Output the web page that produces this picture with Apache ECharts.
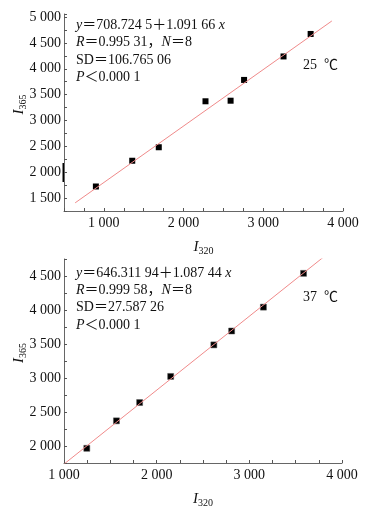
<!DOCTYPE html>
<html>
<head>
<meta charset="utf-8">
<script src="https://cdn.jsdelivr.net/npm/echarts@6/dist/echarts.min.js"></script>
<style>
html,body{margin:0;padding:0;background:#fff;}
#c{width:372px;height:507px;}
</style>
</head>
<body>
<div id="c"></div>
<script>
// ---- data ----
const x25 = [900, 1356, 1689, 2275, 2590, 2759, 3254, 3594];
const y25 = [1724, 2222, 2483, 3372, 3383, 3785, 4239, 4674];
const fit25X = [640, 3860];
const fit25Y = [1408, 4925];

const x37 = [1246, 1566, 1816, 2151, 2617, 2809, 3152, 3585];
const y37 = [1966, 2370, 2639, 3023, 3487, 3691, 4042, 4539];
const fit37X = [1000, 3800];
const fit37Y = [1734, 4778];

const text25 = ['{i|y}＝708.724 5＋1.091 66 {i|x}', '{i|R}＝0.995 31，{i|N}＝8', 'SD＝106.765 06', '{i|P}＜0.000 1'];
const text37 = ['{i|y}＝646.311 94＋1.087 44 {i|x}', '{i|R}＝0.999 58，{i|N}＝8', 'SD＝27.587 26', '{i|P}＜0.000 1'];
const temp25 = '25  ℃';
const temp37 = '37  ℃';

const FONT = "'Liberation Serif', 'Noto Sans CJK SC', serif";
const pairs = (xs, ys) => xs.map((v, i) => [v, ys[i]]);
const fmt = v => {
  const th = Math.floor(v / 1000), r = v % 1000;
  return th + ' ' + String(r).padStart(3, '0');
};

function xAxis(gi, min, max) {
  return {
    type: 'value', gridIndex: gi, min: min, max: max, interval: 250,
    name: '{i|I}{s|320}', nameLocation: 'middle', nameGap: 27, nameMoveOverlap: false,
    nameTextStyle: { rich: {
      i: { fontFamily: FONT, fontStyle: 'italic', fontSize: 15, color: '#111' },
      s: { fontFamily: FONT, fontSize: 10, color: '#111', padding: [8, 0, 0, 0] } } },
    axisLine: { show: true, onZero: false, lineStyle: { color: '#666', width: 1 } },
    axisTick: { show: true, inside: true, length: 3, lineStyle: { color: '#555' } },
    axisLabel: { fontFamily: FONT, fontSize: 14, color: '#111', margin: 5,
      formatter: v => (v % 1000 === 0 ? fmt(v) : '') },
    splitLine: { show: false }
  };
}
function yAxis(gi, min, max) {
  return {
    type: 'value', gridIndex: gi, min: min, max: max, interval: 250,
    name: '{i|I}{s|365}', nameLocation: 'middle', nameGap: 36, nameRotate: 90, nameMoveOverlap: false,
    nameTextStyle: { padding: [0, 0, 0, 16], rich: {
      i: { fontFamily: FONT, fontStyle: 'italic', fontSize: 15, color: '#111' },
      s: { fontFamily: FONT, fontSize: 10, color: '#111', padding: [8, 0, 0, 0] } } },
    axisLine: { show: true, onZero: false, lineStyle: { color: '#666', width: 1 } },
    axisTick: { show: true, inside: true, length: 3, lineStyle: { color: '#555' } },
    axisLabel: { fontFamily: FONT, fontSize: 14, color: '#111', margin: 3,
      formatter: v => (v % 500 === 0 ? fmt(v) : '') },
    splitLine: { show: false }
  };
}
function annot(lines, x0, y0, dy) {
  return lines.map((t, i) => ({
    type: 'text', x: x0, y: y0 + i * dy,
    style: { text: t, fill: '#111', font: '14px ' + FONT, verticalAlign: 'middle', align: 'left',
      rich: { i: { fontStyle: 'italic', fontFamily: FONT, fontSize: 14, fill: '#111' } } }
  }));
}

const chart = echarts.init(document.getElementById('c'), null, { renderer: 'canvas' });
chart.setOption({
  animation: false,
  backgroundColor: '#fff',
  grid: [
    { left: 64, right: 29, top: 14, bottom: 296, containLabel: false, outerBoundsMode: 'none' },
    { left: 64, right: 30, top: 259, bottom: 44, containLabel: false, outerBoundsMode: 'none' }
  ],
  xAxis: [xAxis(0, 500, 4000), xAxis(1, 1000, 4000)],
  yAxis: [yAxis(0, 1250, 5060), yAxis(1, 1750, 4750)],
  series: [
    { type: 'line', xAxisIndex: 0, yAxisIndex: 0, data: pairs(fit25X, fit25Y), symbol: 'none',
      lineStyle: { color: '#f08a8a', width: 1 }, clip: true, silent: true },
    { type: 'scatter', xAxisIndex: 0, yAxisIndex: 0, data: pairs(x25, y25), symbol: 'rect', symbolSize: 6,
      itemStyle: { color: '#000', opacity: 1 } },
    { type: 'line', xAxisIndex: 1, yAxisIndex: 1, data: pairs(fit37X, fit37Y), symbol: 'none',
      lineStyle: { color: '#f08a8a', width: 1 }, clip: true, silent: true },
    { type: 'scatter', xAxisIndex: 1, yAxisIndex: 1, data: pairs(x37, y37), symbol: 'rect', symbolSize: 6,
      itemStyle: { color: '#000', opacity: 1, borderColor: '#555', borderWidth: 0.5 } }
  ],
  graphic: [].concat(
    annot(text25, 76, 25, 17.5),
    annot(text37, 76, 273, 17.3),
    [
      { type: 'text', x: 303, y: 65, style: { text: temp25, fill: '#111', font: '14px ' + FONT, verticalAlign: 'middle' } },
      { type: 'text', x: 303, y: 297, style: { text: temp37, fill: '#111', font: '14px ' + FONT, verticalAlign: 'middle' } },
      { type: 'line', shape: { x1: 63.5, y1: 163, x2: 63.5, y2: 182 }, style: { stroke: '#000', lineWidth: 2 } }
    ]
  )
});
</script>
</body>
</html>
